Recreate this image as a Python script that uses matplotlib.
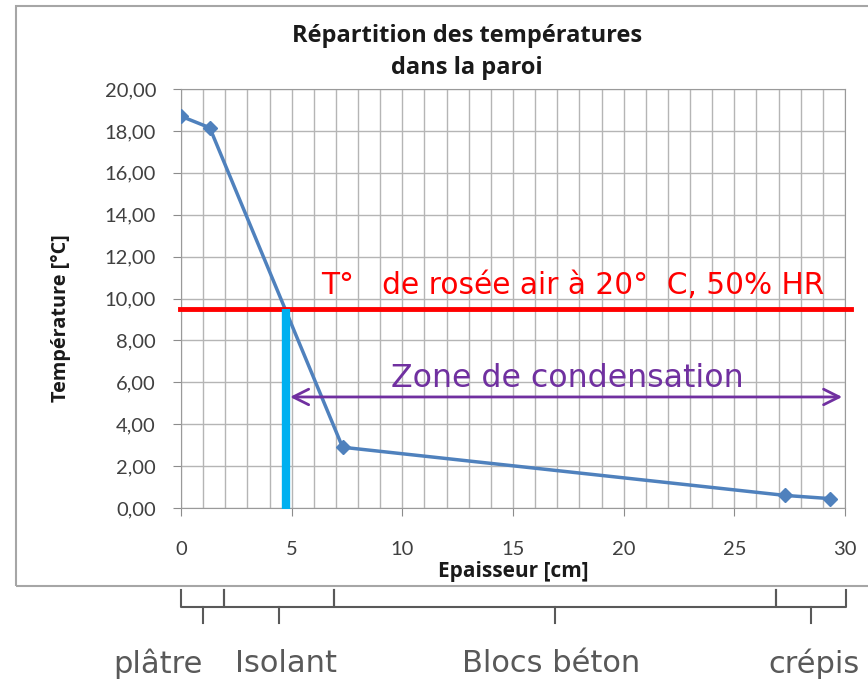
import matplotlib
matplotlib.use("Agg")
import matplotlib.pyplot as plt
from matplotlib.ticker import MultipleLocator, FuncFormatter
from matplotlib.patches import Rectangle
from matplotlib.lines import Line2D
import matplotlib.transforms as mtransforms

# data
epaisseur = [0, 1.3, 7.3, 27.3, 29.3]
temperature = [18.7, 18.15, 2.9, 0.6, 0.45]
t_rosee = 9.5
x_rosee = 4.75
y_zone = 5.3
layers = ["plâtre", "Isolant", "Blocs béton", "crépis"]
layer_bounds = [0, 1.95, 6.9, 26.9, 30.05]
layer_label_x = [-1.05, 4.75, 16.7, 28.6]

W, H = 868, 682
fig = plt.figure(figsize=(W / 100, H / 100), dpi=100)
ax = fig.add_axes([181 / W, 1 - 508 / H, (845 - 181) / W, (508 - 89) / H])

ax.plot(epaisseur, temperature, color="#4F81BD", lw=2.5, marker="D", ms=7, zorder=4)

ax.set_xlim(0, 30)
ax.set_ylim(0, 20)
ax.xaxis.set_major_locator(MultipleLocator(5))
ax.xaxis.set_minor_locator(MultipleLocator(1))
ax.yaxis.set_major_locator(MultipleLocator(2))
ax.yaxis.set_major_formatter(FuncFormatter(lambda v, p: f"{v:.2f}".replace(".", ",")))
ax.grid(True, which="both", color="#b5b5b5", lw=1)
ax.set_axisbelow(True)
ax.tick_params(which="major", length=6, color="#8c8c8c", labelsize=14.5,
               labelcolor="#404040")
ax.tick_params(axis="y", which="major", pad=12)
ax.tick_params(axis="x", which="major", pad=18)
ax.tick_params(which="minor", length=0)
for lab in ax.get_xticklabels() + ax.get_yticklabels():
    lab.set_family("Lato")
for s in ax.spines.values():
    s.set_color("#9a9a9a")

ax.set_xlabel("Epaisseur [cm]", fontsize=15, fontweight="bold", family="Open Sans",
              labelpad=2, color="#1a1a1a")
ax.set_ylabel("Température [°C]", fontsize=14.3, fontweight="bold", family="Open Sans",
              color="#1a1a1a")
ax.yaxis.set_label_coords(-0.165, 0.453)
fig.text(467 / W, 1 - 52 / H, "Répartition des températures\ndans la paroi", ha="center",
         va="center", fontsize=17, fontweight="bold", family="Open Sans", linespacing=1.45,
         color="#1a1a1a")

# dew point line, condensation zone
ax.plot([-0.05, 30.25], [t_rosee, t_rosee], color="#FF0000", lw=3.5, clip_on=False, zorder=5)
ax.plot([x_rosee, x_rosee], [-0.05, t_rosee], color="#00B0F0", lw=6, solid_capstyle="butt",
        clip_on=False, zorder=6)
ax.annotate("", xy=(30, y_zone), xytext=(x_rosee + 0.05, y_zone),
            arrowprops=dict(arrowstyle="<->", color="#7030A0", lw=2, mutation_scale=28),
            zorder=6)
ax.text(6.35, 9.95, "T°   de rosée air à 20°  C, 50% HR", color="#FF0000", fontsize=21.3,
        va="bottom", ha="left", zorder=6)
ax.text(9.5, 5.45, "Zone de condensation", color="#7030A0", fontsize=22.8,
        va="bottom", ha="left", zorder=6)

# outer chart frame
fig.add_artist(Rectangle((16 / W, 1 - 586 / H), 1.0, (586 - 6) / H, transform=fig.transFigure,
                         fill=False, ec="#a6a6a6", lw=1.5))

# braces below the chart
tr = mtransforms.blended_transform_factory(ax.transData, fig.transFigure)
y_top, y_mid, y_tip = 1 - 590 / H, 1 - 607 / H, 1 - 623 / H
for i in range(len(layers)):
    x0, x1 = layer_bounds[i], layer_bounds[i + 1]
    xc = (x0 + x1) / 2
    fig.add_artist(Line2D([x0, x0, x1, x1], [y_top, y_mid, y_mid, y_top], transform=tr,
                          color="#595959", lw=1.5))
    fig.add_artist(Line2D([xc, xc], [y_mid, y_tip], transform=tr, color="#595959", lw=1.5))
    fig.text(layer_label_x[i], 1 - 664 / H, layers[i], transform=tr, ha="center", va="center",
             fontsize=22, color="#595959")

fig.savefig("out.png", dpi=100, facecolor="white")
